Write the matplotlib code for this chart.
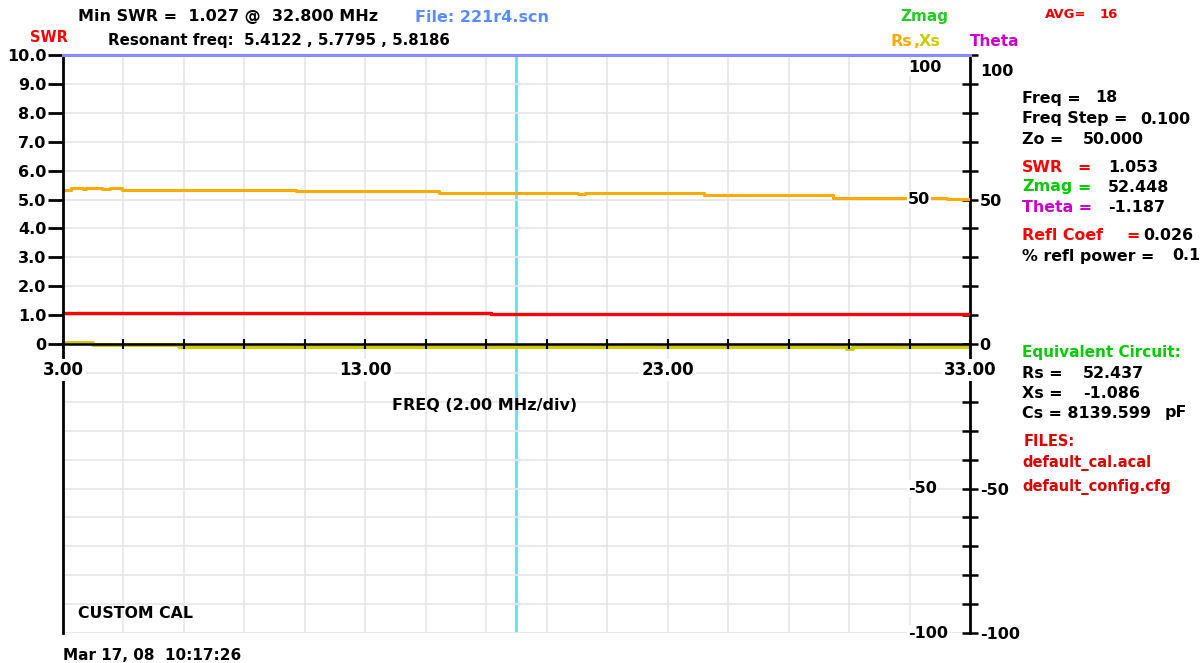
import matplotlib
matplotlib.use("Agg")
import matplotlib.pyplot as plt
from matplotlib.transforms import ScaledTranslation

# ---- data ----
freq_rs = [3.0, 3.26, 3.66, 3.76, 4.29, 4.55, 4.95, 10.7, 15.44, 20.04, 20.27, 24.2, 28.47, 32.24, 33.0]
rs = [53.4, 54.1, 53.7, 54.1, 53.7, 54.1, 53.4, 52.9, 52.4, 51.9, 52.1, 51.4, 50.6, 50.1, 50.1]
zmag = [53.4, 54.1, 53.7, 54.1, 53.7, 54.1, 53.4, 52.9, 52.4, 51.9, 52.1, 51.4, 50.6, 50.1, 50.1]

freq_swr = [3.0, 17.16, 17.46, 25.0, 31.0, 33.0]
swr = [1.07, 1.035, 1.053, 1.04, 1.03, 1.03]

freq_xs = [3.0, 4.0, 6.84, 28.93, 29.13, 33.0]
xs = [0.5, -0.3, -1.0, -1.9, -1.0, -1.0]
theta = [0.5, -0.3, -1.0, -1.9, -1.0, -1.0]

grid_freqs = [3, 5, 7, 9, 11, 13, 15, 17, 19, 21, 23, 25, 27, 29, 31, 33]
x_major = [3, 13, 23, 33]
x_labels = ["3.00", "13.00", "23.00", "33.00"]
swr_ticks = [0, 1, 2, 3, 4, 5, 6, 7, 8, 9, 10]
swr_labels = ["0", "1.0", "2.0", "3.0", "4.0", "5.0", "6.0", "7.0", "8.0", "9.0", "10.0"]
r_major = [-100, -50, 0, 50, 100]
r_minor = [-90, -80, -70, -60, -40, -30, -20, -10, 10, 20, 30, 40, 60, 70, 80, 90]
inner_vals = [100, 50, -50, -100]
marker_freq = 18

plt.rcParams["font.family"] = "DejaVu Sans"
plt.rcParams["font.weight"] = "bold"

W, H = 1202, 663
fig = plt.figure(figsize=(W / 100, H / 100), dpi=100)
ax = fig.add_axes([63 / W, 1 - 633 / H, 907 / W, 578 / H])
ax2 = ax.twinx()
ax.set_zorder(ax2.get_zorder() + 1)
ax.patch.set_visible(False)

ax.set_xlim(3, 33)
ax.set_ylim(-10, 10)
ax2.set_ylim(-100, 100)

# grid + marker live on the lower (right-scale) axes
ax2.set_yticks(r_major)
ax2.set_yticks(r_minor, minor=True)
ax2.grid(axis="y", which="both", color="#e6e6e6", lw=1.2, zorder=0)
for f in grid_freqs:
    ax2.axvline(f, color="#e6e6e6", lw=1.2, zorder=0)
ax2.axvline(marker_freq, color="#5ae6ef", lw=2, zorder=1)

# Zmag / Theta sit underneath Rs / Xs (they overlap on this scale)
ax2.plot(freq_rs, zmag, drawstyle="steps-post", color="#00cc00", lw=1.0, zorder=2)
ax2.plot(freq_rs, rs, drawstyle="steps-post", color="#ffaa00", lw=2.2, zorder=3)
ax2.plot(freq_xs, theta, drawstyle="steps-post", color="#cc00cc", lw=1.0, zorder=2)
ax2.plot(freq_xs, xs, drawstyle="steps-post", color="#cccc00", lw=2.8, zorder=3)

ax.plot(freq_swr, swr, drawstyle="steps-post", color="#ff0000", lw=2.4, zorder=2)

# spines
for s in ["left", "top", "bottom"]:
    ax2.spines[s].set_visible(False)
ax2.spines["right"].set_linewidth(2)
ax.spines["right"].set_visible(False)
ax.spines["left"].set_linewidth(2)
ax.spines["top"].set_color("#8a8aff")
ax.spines["top"].set_linewidth(2.2)
ax.spines["bottom"].set_position(("data", 0))
ax.spines["bottom"].set_linewidth(1.8)

# x axis on the zero line
ax.set_xticks(x_major)
ax.set_xticklabels(x_labels)
ax.set_xticks(grid_freqs, minor=True)
ax.tick_params(axis="x", which="both", direction="inout", length=7, width=1.5,
               pad=9, labelsize=12)
for t in ax.get_xticklabels():
    t.set_bbox(dict(facecolor="white", edgecolor="none", pad=1.5))
ax.xaxis.set_zorder(3)

# left SWR scale
ax.set_yticks(swr_ticks)
ax.set_yticklabels(swr_labels)
ax.tick_params(axis="y", direction="out", length=11, width=2, pad=1, labelsize=11.5)

# right scale
ax2.set_yticklabels([str(v) for v in r_major])
ax2.tick_params(axis="y", which="both", direction="inout", length=12, width=1.8,
                pad=1, labelsize=11.5)
top_lbl = ax2.get_yticklabels()[-1]
top_lbl.set_transform(top_lbl.get_transform()
                      + ScaledTranslation(0, -11 / 72, fig.dpi_scale_trans))
for v in inner_vals:
    dy = -9 if v == 100 else 0
    ax2.annotate(str(v), xy=(0.9316, v), xycoords=ax2.get_yaxis_transform(),
                 xytext=(0, dy), textcoords="offset points", ha="left", va="center",
                 fontsize=11.5, zorder=5,
                 bbox=dict(facecolor="white", edgecolor="none", pad=0.5))


def txt(x, y, s, color="black", size=11.4, **kw):
    fig.text(x / W, 1 - y / H, s, color=color, fontsize=size, ha="left", va="center", **kw)


# header
txt(78, 17, "Min SWR =  1.027 @  32.800 MHz", size=11.5)
txt(415, 17, "File: 221r4.scn", color="#5a8cff", size=11.5)
txt(900, 17, "Zmag", color="#22cc22", size=11)
txt(1045, 14, "AVG=", color="#ee0000", size=9.5)
txt(1100, 14, "16", color="#ee0000", size=9.5)
txt(30, 38, "SWR", color="#ff0000", size=10.5)
txt(108, 40, "Resonant freq:  5.4122 , 5.7795 , 5.8186", size=10.8)
txt(891, 41, "Rs", color="#ffaa00", size=11.5)
txt(913, 41, ",", color="#ffaa00", size=11.5)
txt(919, 41, "Xs", color="#cccc00", size=11.5)
txt(970, 41, "Theta", color="#cc00cc", size=11)

# right panel
txt(1022, 98, "Freq =")
txt(1095, 98, "18")
txt(1022, 119, "Freq Step =")
txt(1140, 119, "0.100")
txt(1022, 139, "Zo =")
txt(1083, 139, "50.000")
txt(1022, 167, "SWR", color="#ff0000")
txt(1077, 167, "=", color="#ff0000")
txt(1108, 167, "1.053")
txt(1022, 187, "Zmag", color="#00cc00")
txt(1077, 187, "=", color="#00cc00")
txt(1108, 187, "52.448")
txt(1022, 207, "Theta =", color="#cc00cc")
txt(1108, 207, "-1.187")
txt(1022, 235, "Refl Coef", color="#ff0000")
txt(1126, 235, "=", color="#ff0000")
txt(1143, 235, "0.026")
txt(1022, 256, "% refl power =")
txt(1172, 256, "0.1")
txt(1022, 353, "Equivalent Circuit:", color="#00cc00", size=11)
txt(1022, 373, "Rs =")
txt(1083, 373, "52.437")
txt(1022, 393, "Xs =")
txt(1083, 393, "-1.086")
txt(1022, 413, "Cs = 8139.599")
txt(1165, 413, "pF")
txt(1024, 441, "FILES:", color="#dd0000", size=10.5)
txt(1022, 463, "default_cal.acal", color="#dd0000", size=10.5)
txt(1022, 487, "default_config.cfg", color="#dd0000", size=10.5)

# in-plot / bottom notes
txt(392, 405, "FREQ (2.00 MHz/div)", size=11.5)
txt(78, 614, "CUSTOM CAL", size=11.3)
txt(63, 655, "Mar 17, 08  10:17:26", size=11)

fig.savefig("out.png", dpi=100)
